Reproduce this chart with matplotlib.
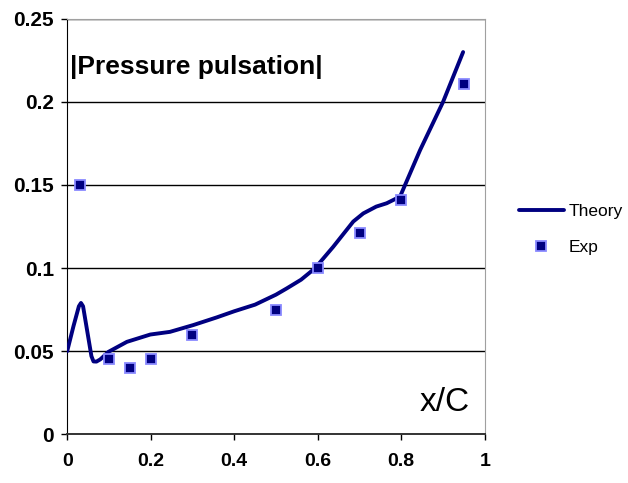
import matplotlib
matplotlib.use("Agg")
from matplotlib import pyplot as plt

# theory curve, x/C vs |pressure pulsation|
theory_x = [0, 0.015, 0.028, 0.033, 0.038, 0.048, 0.058, 0.063, 0.070, 0.079, 0.099,
            0.143, 0.199, 0.246, 0.302, 0.358, 0.4, 0.45, 0.5, 0.526, 0.56, 0.593,
            0.637, 0.685, 0.709, 0.74, 0.765, 0.797, 0.845, 0.9, 0.948]
theory_y = [0.05, 0.065, 0.077, 0.079, 0.077, 0.062, 0.047, 0.0438, 0.0437, 0.045, 0.0496,
            0.0556, 0.060, 0.0616, 0.0657, 0.0703, 0.074, 0.078, 0.084, 0.0878, 0.093, 0.0998,
            0.1128, 0.128, 0.1329, 0.137, 0.139, 0.143, 0.171, 0.200, 0.230]

# measured points
exp_x = [0.03, 0.1, 0.15, 0.2, 0.3, 0.5, 0.6, 0.7, 0.8, 0.95]
exp_y = [0.15, 0.045, 0.04, 0.045, 0.06, 0.075, 0.1, 0.121, 0.141, 0.211]

x_ticks = [0, 0.2, 0.4, 0.6, 0.8, 1]
x_tick_labels = ["0", "0.2", "0.4", "0.6", "0.8", "1"]
y_ticks = [0, 0.05, 0.1, 0.15, 0.2, 0.25]
y_tick_labels = ["0", "0.05", "0.1", "0.15", "0.2", "0.25"]

NAVY = "#000080"
EDGE = "#8a8aff"

plt.rcParams["font.family"] = ["Liberation Sans", "DejaVu Sans"]

fig = plt.figure(figsize=(6.28, 4.83), dpi=100)
ax = fig.add_axes([0.107, 0.101, 0.665, 0.860])

ax.plot(theory_x, theory_y, color=NAVY, lw=2.8, solid_capstyle="round",
        solid_joinstyle="round", label="Theory", zorder=3)
ax.plot(exp_x, exp_y, ls="none", marker="s", ms=6.6, mfc=NAVY, mec=EDGE, mew=1.3,
        label="Exp", zorder=4)

ax.set_xlim(0, 1)
ax.set_ylim(0, 0.25)
ax.set_xticks(x_ticks)
ax.set_xticklabels(x_tick_labels, fontsize=14, fontweight="bold")
ax.set_yticks(y_ticks)
ax.set_yticklabels(y_tick_labels, fontsize=15, fontweight="bold")
ax.tick_params(direction="out", length=4.5, width=1, color="black", pad=5)
ax.tick_params(axis="x", pad=9)

ax.grid(axis="y", color="black", lw=1.0)
ax.set_axisbelow(True)

ax.spines["top"].set_color("#a0a0a0")
ax.spines["right"].set_color("#a0a0a0")
ax.spines["left"].set_color("black")
ax.spines["bottom"].set_color("#333333")
ax.spines["bottom"].set_linewidth(1.4)

ax.text(0.007, 0.2165, "|Pressure pulsation|", fontsize=19, fontweight="bold",
        ha="left", va="baseline")
ax.text(0.904, 0.019, "x/C", fontsize=24, ha="center", va="center")

fig.legend(loc="upper left", bbox_to_anchor=(0.826, 0.578), frameon=False,
           fontsize=12.5, handlelength=2.6, handletextpad=0.3, labelspacing=1.2,
           borderpad=0, borderaxespad=0, markerscale=1.0)

fig.savefig("out.png", dpi=100)
